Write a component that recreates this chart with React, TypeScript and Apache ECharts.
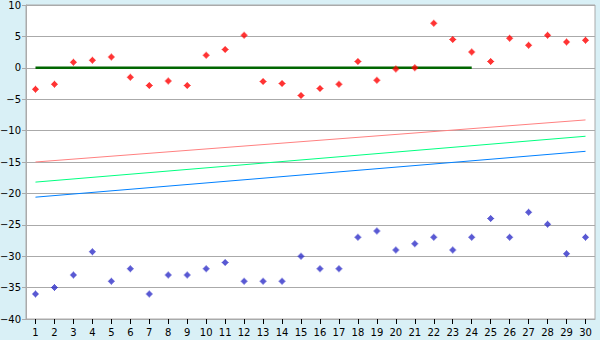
import React, { useEffect, useRef } from "react";
import * as echarts from "echarts";

const categories = Array.from({ length: 30 }, (_, i) => String(i + 1));
const redPoints = [-3.4, -2.6, 0.9, 1.2, 1.7, -1.5, -2.8, -2.1, -2.8, 2.0, 2.9, 5.2, -2.2, -2.5, -4.4, -3.3, -2.6, 1.0, -2.0, -0.2, 0.0, 7.1, 4.5, 2.5, 1.0, 4.7, 3.6, 5.2, 4.1, 4.4];
const bluePoints = [-36, -35, -33, -29.3, -34, -32, -36, -33, -33, -32, -31, -34, -34, -34, -30, -32, -32, -27, -26, -29, -28, -27, -29, -27, -24, -27, -23, -24.9, -29.6, -27];
const redTrendEnds = [-15.0, -8.3];
const greenTrendEnds = [-18.2, -10.9];
const blueTrendEnds = [-20.6, -13.3];
const zeroLineValue = 0;
const zeroLineLastIndex = 23;
const yTicks = { min: -40, max: 10, step: 5 };

function endsSeries(ends: number[]) {
  return categories.map((_, i) => (i === 0 ? ends[0] : i === categories.length - 1 ? ends[1] : null));
}

export default function App() {
  const ref = useRef<HTMLDivElement>(null);
  useEffect(() => {
    document.body.style.margin = "0";
    const chart = echarts.init(ref.current!, null, { renderer: "svg" });
    const font = "DejaVu Sans";
    const symbolPath = "path://M3,0H4V1H5V2H6V3H7V4H6V5H5V6H4V7H3V6H2V5H1V4H0V3H1V2H2V1H3Z";
    chart.setOption({
      animation: false,
      backgroundColor: "#d9f0f6",
      grid: {
        left: 26,
        top: 5,
        right: 5,
        bottom: 21,
        containLabel: false,
        outerBoundsMode: "none",
        show: true,
        backgroundColor: "#ffffff",
        borderColor: "#aaaaaa",
        borderWidth: 1,
      },
      xAxis: {
        type: "category",
        data: categories,
        boundaryGap: true,
        axisLine: { onZero: false, lineStyle: { color: "#aaaaaa" } },
        axisTick: { show: true, alignWithLabel: true, length: 5, lineStyle: { color: "#000" } },
        axisLabel: { color: "#000", fontFamily: font, fontSize: 10, margin: 8, interval: 0 },
        splitLine: { show: false },
      },
      yAxis: {
        type: "value",
        min: yTicks.min,
        max: yTicks.max,
        interval: yTicks.step,
        axisLine: { show: true, lineStyle: { color: "#aaaaaa" } },
        axisTick: { show: true, length: 4, lineStyle: { color: "#aaaaaa" } },
        axisLabel: {
          color: "#000",
          fontFamily: font,
          fontSize: 10,
          margin: 5,
          formatter: (v: number) => String(v).replace("-", "\u2212"),
        },
        splitLine: { show: true, lineStyle: { color: "#aaaaaa", width: 1 } },
      },
      series: [
        {
          type: "line",
          data: endsSeries(redTrendEnds),
          connectNulls: true,
          symbol: "none",
          lineStyle: { color: "#ff8080", width: 1 },
          z: 2,
        },
        {
          type: "line",
          data: endsSeries(greenTrendEnds),
          connectNulls: true,
          symbol: "none",
          lineStyle: { color: "#00ff80", width: 1 },
          z: 2,
        },
        {
          type: "line",
          data: endsSeries(blueTrendEnds),
          connectNulls: true,
          symbol: "none",
          lineStyle: { color: "#0080ff", width: 1 },
          z: 2,
        },
        {
          type: "line",
          data: categories.map((_, i) => (i === 0 || i === zeroLineLastIndex ? zeroLineValue : null)),
          connectNulls: true,
          symbol: "none",
          lineStyle: { color: "#006600", width: 2.5 },
          z: 3,
        },
        {
          type: "scatter",
          data: redPoints,
          symbol: symbolPath,
          symbolSize: 7,
          itemStyle: { color: "#ff0000" },
          z: 5,
        },
        {
          type: "scatter",
          data: bluePoints,
          symbol: symbolPath,
          symbolSize: 7,
          itemStyle: { color: "#3030c8" },
          z: 5,
        },
      ],
    });
    return () => chart.dispose();
  }, []);
  return <div ref={ref} style={{ width: 600, height: 340 }} />;
}
